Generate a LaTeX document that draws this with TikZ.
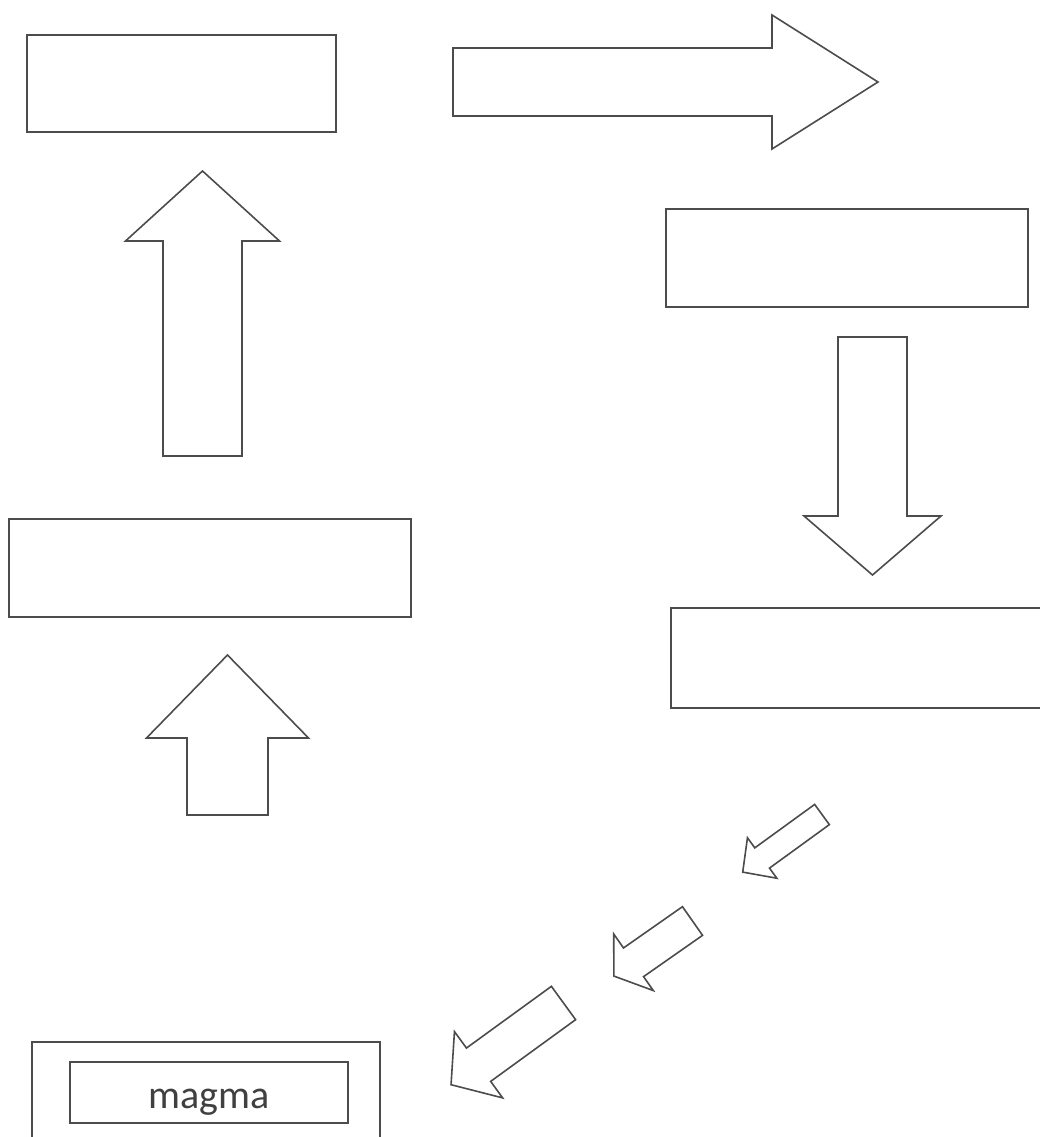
\documentclass[tikz,border=0pt]{standalone}
\usepackage{fontspec}
\newfontfamily\calfont{Carlito}
\usetikzlibrary{positioning}

\begin{document}
\begin{tikzpicture}[x=1pt,y=-1pt,
    box/.style={rectangle,draw=black!70,line width=1.6pt,inner sep=0pt},
    fatarrow/.style={draw=black!70,line width=1.6pt,line join=miter}]
    \useasboundingbox (0,0) rectangle (1040,1137);
    \clip (0,0) rectangle (1040,1137);

    % Left column
    \node[box,minimum width=309pt,minimum height=97pt] (toplft) at (181.5,83.5) {};
    \node[box,minimum width=402pt,minimum height=98pt] (midlft) at (210,568) {};

    % Right column
    \node[box,minimum width=362pt,minimum height=98pt] (toprgt) at (847,258) {};
    \node[box,minimum width=380pt,minimum height=100pt] (midrgt) at (861,658) {};

    % Magma
    \node[box,minimum width=348pt,minimum height=110pt] (chamber) at (206,1097) {};
    \node[box,minimum width=278pt,minimum height=61pt,text height=36pt,text depth=5pt,
          font=\calfont\fontsize{40}{44}\selectfont,text=black!75] (magma) at (209,1092.5) {magma};

    % Block arrows: tail x/y, angle, length, shaft, head half width, head length
    \foreach \tx/\ty/\ang/\len/\sw/\hw/\hl in {
        453/82/0/425/34/67/106,
        202.5/456/90/285/39.5/77/70,
        227.5/815/90/160/40.5/81/83,
        872.5/337/-90/238/34.5/68.5/59,
        822/814.5/216/98/12.5/25/24,
        692.5/921/215/96/17.5/34.5/24,
        563.5/1003/216/139/20.6/41/34} {
        \draw[fatarrow,shift={(\tx,\ty)},rotate=\ang]
            (0,-\sw) -- ({\len-\hl},-\sw) -- ({\len-\hl},-\hw) -- (\len,0)
            -- ({\len-\hl},\hw) -- ({\len-\hl},\sw) -- (0,\sw) -- cycle;
    }
\end{tikzpicture}
\end{document}
